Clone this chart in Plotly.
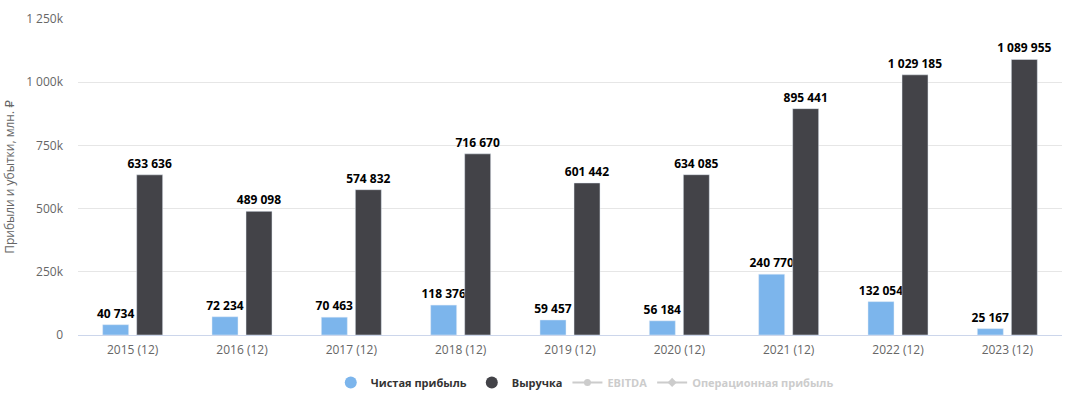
import plotly.graph_objects as go

categories = ["2015 (12)", "2016 (12)", "2017 (12)", "2018 (12)", "2019 (12)",
              "2020 (12)", "2021 (12)", "2022 (12)", "2023 (12)"]
net_profit = [40734, 72234, 70463, 118376, 59457, 56184, 240770, 132054, 25167]
revenue = [633636, 489098, 574832, 716670, 601442, 634085, 895441, 1029185, 1089955]
tick_vals = [0, 250000, 500000, 750000, 1000000, 1250000]
tick_text = ["0", "250k", "500k", "750k", "1 000k", "1 250k"]

BLUE = "#7cb5ec"
DARK = "#434348"
FONT = "Open Sans, DejaVu Sans, sans-serif"


def fmt(v):
    return f"{v:,}".replace(",", " ")


fig = go.Figure()
fig.add_trace(go.Bar(
    x=categories, y=net_profit, name="Чистая прибыль", marker_color=BLUE,
    text=[fmt(v) for v in net_profit], textposition="outside", constraintext="none",
    textfont=dict(size=12, color="#000000", family=FONT, weight="bold"),
    cliponaxis=False, showlegend=False, legendgroup="np",
))
fig.add_trace(go.Bar(
    x=categories, y=revenue, name="Выручка", marker_color=DARK,
    text=[fmt(v) for v in revenue], textposition="outside", constraintext="none",
    textfont=dict(size=12, color="#000000", family=FONT, weight="bold"),
    cliponaxis=False, showlegend=False, legendgroup="rev",
))
# legend entries
fig.add_trace(go.Scatter(x=[None], y=[None], mode="markers", name="Чистая прибыль",
                         marker=dict(color=BLUE, size=12, symbol="circle"), legendgroup="np"))
fig.add_trace(go.Scatter(x=[None], y=[None], mode="markers", name="Выручка",
                         marker=dict(color=DARK, size=12, symbol="circle"), legendgroup="rev"))
fig.add_trace(go.Scatter(x=[None], y=[None], mode="lines+markers",
                         name="<span style='color:#cccccc'>EBITDA</span>",
                         line=dict(color="#cccccc", width=2),
                         marker=dict(color="#cccccc", size=7, symbol="circle")))
fig.add_trace(go.Scatter(x=[None], y=[None], mode="lines+markers",
                         name="<span style='color:#cccccc'>Операционная прибыль</span>",
                         line=dict(color="#cccccc", width=2),
                         marker=dict(color="#cccccc", size=7, symbol="diamond")))

fig.update_layout(
    width=1065, height=396,
    margin=dict(l=78, r=3, t=19, b=61, autoexpand=False),
    paper_bgcolor="white", plot_bgcolor="white",
    font=dict(family=FONT, size=12, color="#666666"),
    barmode="group", bargap=0.378, bargroupgap=0.235,
    showlegend=True,
    legend=dict(orientation="h", x=0.515, xanchor="center", y=-0.15, yanchor="middle",
                font=dict(size=11, color="#333333", family=FONT, weight="bold"),
                itemclick=False, itemdoubleclick=False),
    xaxis=dict(type="category", showgrid=False, showline=True, linecolor="#ccd6eb",
               linewidth=1, ticks="", automargin=False, ticklabelstandoff=4,
               tickfont=dict(size=12, color="#666666")),
    yaxis=dict(range=[0, 1250000], tickvals=tick_vals, ticktext=tick_text, automargin=False,
               showgrid=True, gridcolor="#e6e6e6", zeroline=False,
               tickfont=dict(size=12, color="#666666"), ticklabelstandoff=14,
               title=dict(text="Прибыли и убытки, млн. ₽", font=dict(size=12, color="#666666"),
                          standoff=8)),
)

fig.write_html("out.html", config={"displayModeBar": False},
               post_script="document.body.style.margin='0';")
